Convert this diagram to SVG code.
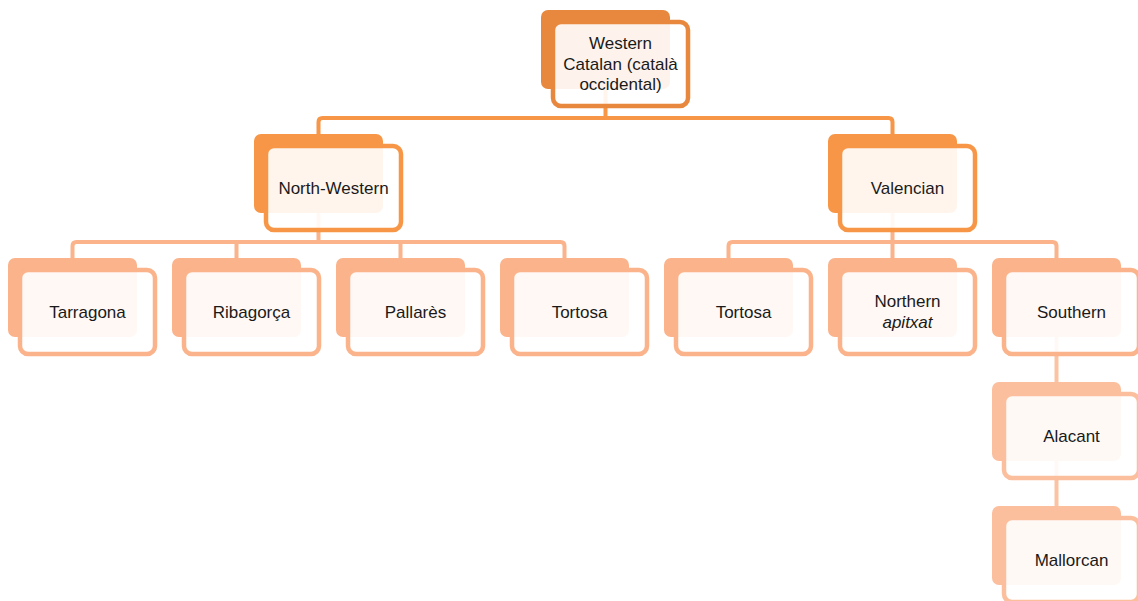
<svg xmlns="http://www.w3.org/2000/svg" width="1138" height="601" viewBox="0 0 1138 601">
<style>
.t{font-family:"Liberation Sans",Arial,sans-serif;font-size:17px;fill:#1a1a1a;text-anchor:middle}
.i{font-style:italic}
.back{stroke:none}
.front{fill:#ffffff;fill-opacity:0.9;stroke-width:4.5}
.l0 .back{fill:#E8883F}.l0 .front{stroke:#E8883F}
.l1 .back{fill:#F79646}.l1 .front{stroke:#F79646}
.l2 .back{fill:#FAB38A}.l2 .front{stroke:#FAB38A}
.l3 .back{fill:#FBBF9E}.l3 .front{stroke:#FBBF9E}
.c{fill:none;stroke-width:4;stroke-linejoin:round}
</style>
<g id="connectors">
<path class="c" stroke="#F79646" d="M318.5,134 V122 Q318.5,118 322.5,118 H888.5 Q892.5,118 892.5,122 V134 M605.5,88 V118"/>
<path class="c" stroke="#FAB38A" d="M72.5,258 V246 Q72.5,242 76.5,242 H560.5 Q564.5,242 564.5,246 V258 M236.5,242 V258 M400.5,242 V258 M318.5,213 V242"/>
<path class="c" stroke="#FAB38A" d="M728.5,258 V246 Q728.5,242 732.5,242 H1052.5 Q1056.5,242 1056.5,246 V258 M892.5,213 V258"/>
<path class="c" stroke="#FBC3A3" d="M1056.5,337 V382 M1056.5,461 V506"/>
</g>
<g id="root" class="l0"><rect class="back" x="541" y="10" width="129" height="79" rx="7"/><rect class="front" x="553" y="22" width="135" height="84" rx="8"/><text class="t" x="620.5" y="49">Western</text><text class="t" x="620.5" y="69.5">Catalan (català</text><text class="t" x="620.5" y="90">occidental)</text></g>
<g id="north-western" class="l1"><rect class="back" x="254" y="134" width="129" height="79" rx="7"/><rect class="front" x="266" y="146" width="135" height="84" rx="8"/><text class="t" x="333.5" y="193.5">North-Western</text></g>
<g id="valencian" class="l1"><rect class="back" x="828" y="134" width="129" height="79" rx="7"/><rect class="front" x="840" y="146" width="135" height="84" rx="8"/><text class="t" x="907.5" y="193.5">Valencian</text></g>
<g id="tarragona" class="l2"><rect class="back" x="8" y="258" width="129" height="79" rx="7"/><rect class="front" x="20" y="270" width="135" height="84" rx="8"/><text class="t" x="87.5" y="317.5">Tarragona</text></g>
<g id="ribagorca" class="l2"><rect class="back" x="172" y="258" width="129" height="79" rx="7"/><rect class="front" x="184" y="270" width="135" height="84" rx="8"/><text class="t" x="251.5" y="317.5">Ribagorça</text></g>
<g id="pallares" class="l2"><rect class="back" x="336" y="258" width="129" height="79" rx="7"/><rect class="front" x="348" y="270" width="135" height="84" rx="8"/><text class="t" x="415.5" y="317.5">Pallarès</text></g>
<g id="tortosa-nw" class="l2"><rect class="back" x="500" y="258" width="129" height="79" rx="7"/><rect class="front" x="512" y="270" width="135" height="84" rx="8"/><text class="t" x="579.5" y="317.5">Tortosa</text></g>
<g id="tortosa-v" class="l2"><rect class="back" x="664" y="258" width="129" height="79" rx="7"/><rect class="front" x="676" y="270" width="135" height="84" rx="8"/><text class="t" x="743.5" y="317.5">Tortosa</text></g>
<g id="northern" class="l2"><rect class="back" x="828" y="258" width="129" height="79" rx="7"/><rect class="front" x="840" y="270" width="135" height="84" rx="8"/><text class="t" x="907.5" y="307">Northern</text><text class="t i" x="907.5" y="327.5">apitxat</text></g>
<g id="southern" class="l2"><rect class="back" x="992" y="258" width="129" height="79" rx="7"/><rect class="front" x="1004" y="270" width="135" height="84" rx="8"/><text class="t" x="1071.5" y="317.5">Southern</text></g>
<g id="alacant" class="l3"><rect class="back" x="992" y="382" width="129" height="79" rx="7"/><rect class="front" x="1004" y="394" width="135" height="84" rx="8"/><text class="t" x="1071.5" y="441.5">Alacant</text></g>
<g id="mallorcan" class="l3"><rect class="back" x="992" y="506" width="129" height="79" rx="7"/><rect class="front" x="1004" y="518" width="135" height="84" rx="8"/><text class="t" x="1071.5" y="565.5">Mallorcan</text></g>
</svg>
